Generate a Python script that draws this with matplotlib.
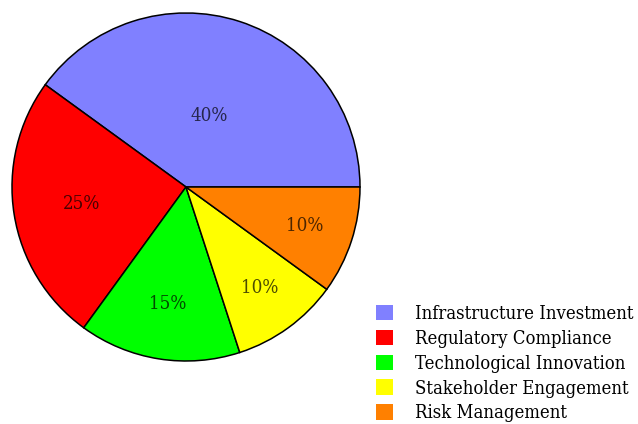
import matplotlib
matplotlib.use("Agg")
import matplotlib.pyplot as plt
import matplotlib.patches as mpatches
import numpy as np

categories = ["Infrastructure Investment", "Regulatory Compliance",
              "Technological Innovation", "Stakeholder Engagement",
              "Risk Management"]
shares = [40, 25, 15, 10, 10]
colors = ["#8080FF", "#FF0000", "#00FF00", "#FFFF00", "#FF8000"]
label_radius = [0.43, 0.61, 0.68, 0.72, 0.72]

serif = "DejaVu Serif"

W, H = 638, 424
fig = plt.figure(figsize=(W / 100, H / 100), dpi=100)
fig.patch.set_facecolor("white")

cx, cy, R = 186, 187, 174
ax = fig.add_axes([(cx - R) / W, (H - cy - R) / H, 2 * R / W, 2 * R / H])
wedges, _ = ax.pie(shares, colors=colors, startangle=0, counterclock=True,
                   wedgeprops=dict(edgecolor="black", linewidth=1.1))
ax.set_xlim(-1, 1)
ax.set_ylim(-1, 1)

for w, v, r in zip(wedges, shares, label_radius):
    mid = np.deg2rad((w.theta1 + w.theta2) / 2)
    ax.text(r * np.cos(mid), r * np.sin(mid), f"{v}%", ha="center", va="center",
            fontsize=13.5, family=serif, stretch="condensed",
            color="black", alpha=0.7)

handles = [mpatches.Patch(facecolor=c, edgecolor="none") for c in colors]
fig.legend(handles, categories, loc="upper left",
           bbox_to_anchor=(376 / W, 1 - 305 / H), frameon=False,
           prop=dict(family=serif, size=13.2, stretch="condensed"),
           handlelength=0.92, handleheight=0.92, handletextpad=1.2,
           labelspacing=0.37, borderaxespad=0, borderpad=0)

fig.savefig("out.png", dpi=100)
